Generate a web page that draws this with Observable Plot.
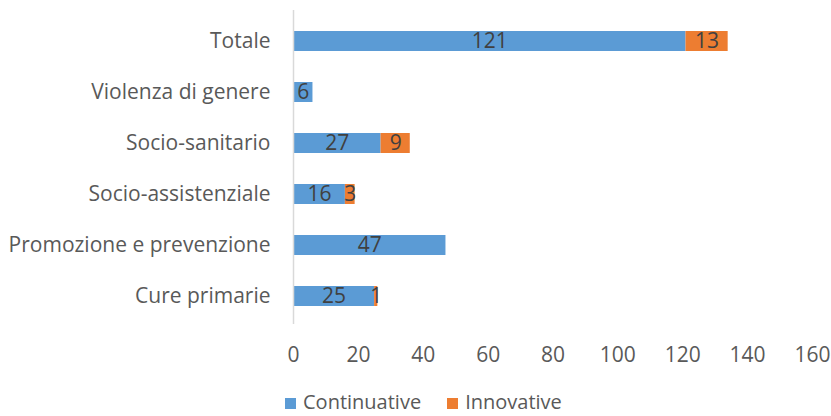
<!DOCTYPE html>
<html>
<head>
<meta charset="utf-8">
<script src="https://cdn.jsdelivr.net/npm/d3@7"></script>
<script src="https://cdn.jsdelivr.net/npm/@observablehq/plot@0.6"></script>
<style>
  html, body { margin: 0; padding: 0; background: #fff; overflow: hidden; }
  #wrap { position: relative; width: 831px; height: 416px; font-family: "Open Sans", sans-serif; }
  #legend { position: absolute; left: 285px; top: 391px; display: flex; font-size: 20px; line-height: 22px; color: #595959; white-space: nowrap; }
  .item { display: flex; align-items: center; margin-right: 26px; }
  .sw { width: 11px; height: 11px; margin-right: 7px; margin-top: 3px; }
</style>
</head>
<body>
<div id="wrap"></div>
<script>
const categories = ["Totale", "Violenza di genere", "Socio-sanitario", "Socio-assistenziale", "Promozione e prevenzione", "Cure primarie"];
const continuative = [121, 6, 27, 16, 47, 25];
const innovative = [13, 0, 9, 3, 0, 1];
const seriesNames = ["Continuative", "Innovative"];
const seriesColors = ["#5B9BD5", "#ED7D31"];
const xTicks = [0, 20, 40, 60, 80, 100, 120, 140, 160];

const rows = [];
categories.forEach((c, i) => {
  rows.push({category: c, series: seriesNames[0], value: continuative[i]});
  rows.push({category: c, series: seriesNames[1], value: innovative[i]});
});

const FS = 21;
const chart = Plot.plot({
  width: 831,
  height: 416,
  marginLeft: 293,
  marginRight: 19,
  marginTop: 14,
  marginBottom: 92,
  style: {fontFamily: "'Open Sans', sans-serif", fontSize: FS + "px", color: "#595959", background: "#fff"},
  x: {domain: [0, 160], ticks: xTicks, label: null, tickSize: 0, tickPadding: 23},
  y: {domain: categories, label: null, tickSize: 0, tickPadding: 23, paddingInner: 0.605, paddingOuter: 0.287},
  color: {domain: seriesNames, range: seriesColors},
  marks: [
    Plot.barX(rows, Plot.stackX({x: "value", y: "category", fill: "series", order: seriesNames})),
    Plot.ruleX([0], {stroke: "#d9d9d9", strokeWidth: 1.5, insetTop: -4}),
    Plot.text(rows, Plot.stackX({x: "value", y: "category", z: "series", order: seriesNames,
      text: d => d.value > 0 ? String(d.value) : null, fill: "#404040", fontSize: FS}))
  ]
});

const wrap = document.getElementById("wrap");
wrap.appendChild(chart);
const legend = document.createElement("div");
legend.id = "legend";
seriesNames.forEach((s, i) => {
  const it = document.createElement("div");
  it.className = "item";
  it.innerHTML = `<span class="sw" style="background:${seriesColors[i]}"></span><span>${s}</span>`;
  legend.appendChild(it);
});
wrap.appendChild(legend);
</script>
</body>
</html>
